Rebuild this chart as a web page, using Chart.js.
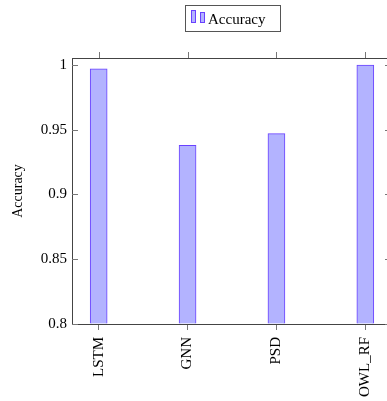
<!DOCTYPE html>
<html>
<head>
<meta charset="utf-8">
<script src="https://cdn.jsdelivr.net/npm/chart.js@4.4.1/dist/chart.umd.min.js"></script>
<style>
  html, body { margin: 0; padding: 0; overflow: hidden; background: #fff; }
  #wrap { position: relative; width: 397px; height: 401px; }
</style>
</head>
<body>
<div id="wrap"><canvas id="c"></canvas></div>
<script>
// Model accuracies
const categories = ['LSTM', 'GNN', 'PSD', 'OWL_RF'];
const accuracy = [0.997, 0.938, 0.947, 1.0];
const yTicks = [0.8, 0.85, 0.9, 0.95, 1];
const yTickLabels = ['0.8', '0.85', '0.9', '0.95', '1'];
const seriesName = 'Accuracy';

const FILL = 'rgb(179,179,255)';
const EDGE = 'rgb(105,65,255)';
const AXIS = '#444';
const SERIF = '"Liberation Serif", "DejaVu Serif", serif';

// Top/right spines, mirrored ticks and the framed legend
const framePlugin = {
  id: 'frame',
  afterDraw(chart) {
    const { ctx, chartArea: a, scales } = chart;
    ctx.save();
    ctx.strokeStyle = AXIS;
    ctx.lineWidth = 1;
    ctx.beginPath();
    ctx.moveTo(a.left, a.top + 0.5); ctx.lineTo(a.right, a.top + 0.5);
    ctx.moveTo(a.right - 0.5, a.top); ctx.lineTo(a.right - 0.5, a.bottom);
    ctx.stroke();

    ctx.strokeStyle = '#777';
    ctx.beginPath();
    categories.forEach((_, i) => {
      const x = Math.round(scales.x.getPixelForValue(i)) + 0.5;
      ctx.moveTo(x, a.top); ctx.lineTo(x, a.top - 6);
    });
    yTicks.forEach(v => {
      const y = Math.round(scales.y.getPixelForValue(v)) + 0.5;
      ctx.moveTo(a.left, y); ctx.lineTo(a.left + 6, y);
      ctx.moveTo(a.right, y); ctx.lineTo(a.right - 7, y);
    });
    ctx.stroke();

    // legend
    const lx = 185.5, ly = 5.5, lw = 95, lh = 26;
    ctx.strokeStyle = '#555';
    ctx.strokeRect(lx, ly, lw, lh);
    ctx.fillStyle = FILL;
    ctx.strokeStyle = EDGE;
    [[191, 10, 5, 13], [200, 12, 5, 11]].forEach(([x, y, w, h]) => {
      ctx.fillRect(x, y, w, h);
      ctx.strokeRect(x + 0.5, y + 0.5, w - 1, h - 1);
    });
    ctx.fillStyle = '#000';
    ctx.font = '15px ' + SERIF;
    ctx.textBaseline = 'alphabetic';
    ctx.textAlign = 'left';
    ctx.fillText(chart.data.datasets[0].label, 208, 24);
    ctx.restore();
  }
};

new Chart(document.getElementById('c'), {
  type: 'bar',
  data: {
    datasets: [{
      label: seriesName,
      data: categories.map((c, i) => ({ x: i, y: accuracy[i] })),
      backgroundColor: FILL,
      borderColor: EDGE,
      borderWidth: 1,
      barThickness: 17,
      base: 0.8
    }]
  },
  options: {
    responsive: true,
    maintainAspectRatio: false,
    animation: false,
    layout: { padding: { top: 58, right: 5, left: 0, bottom: 0 } },
    plugins: { legend: { display: false }, tooltip: { enabled: false } },
    scales: {
      x: {
        type: 'linear',
        offset: false,
        min: -0.3,
        max: 3.3,
        afterBuildTicks: s => { s.ticks = categories.map((_, i) => ({ value: i })); },
        afterFit: s => { s.height = 77; },
        grid: { offset: false, drawOnChartArea: false, drawTicks: true, tickLength: 6, color: '#777' },
        border: { display: true, color: AXIS, width: 1 },
        ticks: {
          autoSkip: false,
          minRotation: 90,
          maxRotation: 90,
          padding: 7,
          color: '#000',
          font: { family: SERIF, size: 15 },
          callback: v => categories[v]
        }
      },
      y: {
        min: 0.8,
        max: 1.0054,
        afterBuildTicks: s => { s.ticks = yTicks.map(v => ({ value: v })); },
        afterFit: s => { s.width = 72; },
        grid: { drawOnChartArea: false, drawTicks: false },
        border: { display: true, color: AXIS, width: 1 },
        ticks: {
          padding: 5,
          color: '#000',
          font: { family: SERIF, size: 15 },
          callback: v => yTickLabels[yTicks.indexOf(v)]
        },
        title: {
          display: true,
          text: seriesName,
          color: '#000',
          font: { family: SERIF, size: 14 },
          padding: { top: 10, bottom: 0 }
        }
      }
    }
  },
  plugins: [framePlugin]
});
</script>
</body>
</html>
